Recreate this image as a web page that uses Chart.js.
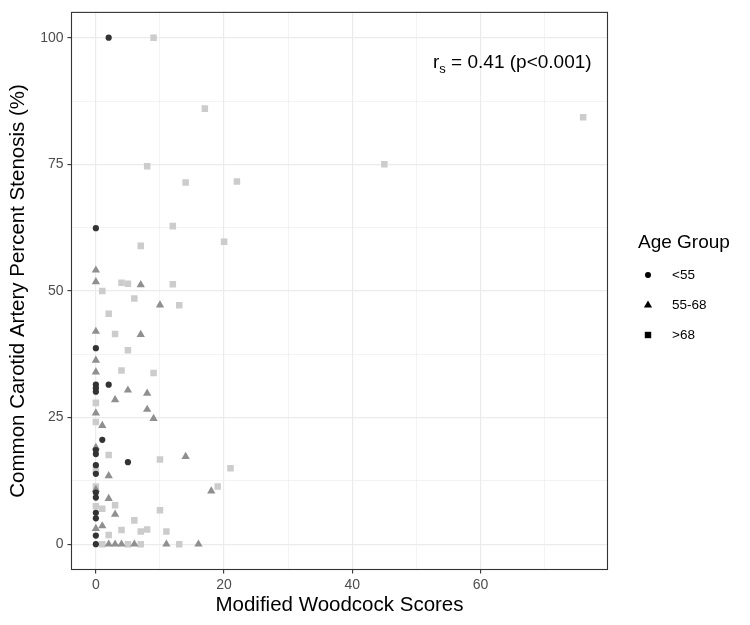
<!DOCTYPE html>
<html>
<head>
<meta charset="utf-8">
<script src="https://cdn.jsdelivr.net/npm/chart.js@4/dist/chart.umd.min.js"></script>
<style>
  html, body { margin: 0; background: #fff; }
  #wrap { width: 750px; height: 625px; position: relative; }
</style>
</head>
<body>
<div id="wrap"><canvas id="chart"></canvas></div>
<script>
// Age groups and their look
const groupNames = ['<55', '55-68', '>68'];
const groupColors = ['#333333', '#8f8f8f', '#cccccc'];

// <55
const youngX = [2, 0, 0, 0, 0, 0, 2, 1, 0, 0, 5, 0, 0, 0, 0, 0, 0, 0, 0];
const youngY = [100, 62.4, 38.7, 31.5, 30.8, 30.1, 31.5, 20.6, 18.6, 17.8, 16.2, 15.6, 13.9, 10.2, 9.2, 6.2, 5.1, 1.7, 0];

// 55-68
const midX = [0, 0, 7, 10, 0, 7, 0, 0, 5, 8, 3, 8, 0, 9, 1, 0, 14, 2, 18, 0, 2, 3, 1, 0, 2, 3, 4, 6, 11, 16];
const midY = [54.1, 51.8, 51.2, 47.2, 42, 41.4, 36.3, 34, 30.4, 29.8, 28.5, 26.6, 25.9, 24.8, 23.4, 19.1, 17.3, 13.5, 10.5, 10.8, 9, 5.9, 3.6, 3.1, 0, 0, 0, 0, 0, 0];

// >68
const oldX = [9, 17, 76, 45, 8, 14, 22, 12, 7, 20, 4, 5, 12, 1, 6, 13, 2, 3, 5, 4, 9, 0, 0, 2, 10, 21, 0, 19, 0, 0, 1, 3, 10, 6, 4, 7, 8, 11, 2, 1, 5, 7, 13];
const oldY = [100, 86, 84.3, 75, 74.6, 71.4, 71.6, 62.8, 58.9, 59.7, 51.6, 51.4, 51.3, 50, 48.5, 47.2, 45.5, 41.5, 38.3, 34.3, 33.8, 27.9, 24.1, 17.6, 16.7, 15, 14.7, 11.4, 11.4, 7.5, 7, 7.7, 6.7, 4.7, 2.8, 2.5, 2.9, 2.5, 1.8, 0, 0, 0, 0];

// axis ticks (majors get labels, the rest are minor grid lines)
const xTicks = [0, 10, 20, 30, 40, 50, 60, 70];
const xLabelled = [0, 20, 40, 60];
const yTicks = [0, 12.5, 25, 37.5, 50, 62.5, 75, 87.5, 100];
const yLabelled = [0, 25, 50, 75, 100];

const FONT = 'Liberation Sans, Arial, sans-serif';

function toPoints(xs, ys) {
    return xs.map((x, i) => ({ x: x, y: ys[i] }));
}

// draws the frame, the r_s note and the legend
const extras = {
    id: 'extras',
    afterDraw(chart) {
        const ctx = chart.ctx;
        const a = chart.chartArea;
        ctx.save();

        // panel border
        ctx.strokeStyle = '#333333';
        ctx.lineWidth = 1.1;
        ctx.strokeRect(a.left, a.top, a.right - a.left, a.bottom - a.top);

        // r_s annotation
        ctx.fillStyle = '#000';
        ctx.textBaseline = 'alphabetic';
        ctx.textAlign = 'left';
        let x = 433;
        ctx.font = '19px ' + FONT;
        ctx.fillText('r', x, 68);
        x += ctx.measureText('r').width;
        ctx.font = '13px ' + FONT;
        ctx.fillText('s', x, 73);
        x += ctx.measureText('s').width;
        ctx.font = '19px ' + FONT;
        ctx.fillText(' = 0.41 (p<0.001)', x, 68);

        // legend
        ctx.font = '19px ' + FONT;
        ctx.textBaseline = 'middle';
        ctx.fillText('Age Group', 638, 243);
        const rows = [275, 305, 335];
        ctx.font = '13.5px ' + FONT;
        groupNames.forEach((name, i) => {
            const cy = rows[i];
            const cx = 648;
            ctx.fillStyle = '#000';
            ctx.beginPath();
            if (i === 0) {
                ctx.arc(cx, cy, 3, 0, Math.PI * 2);
            } else if (i === 1) {
                ctx.moveTo(cx, cy - 4.6);
                ctx.lineTo(cx + 4.1, cy + 2.5);
                ctx.lineTo(cx - 4.1, cy + 2.5);
                ctx.closePath();
            } else {
                ctx.rect(cx - 3.2, cy - 3.2, 6.4, 6.4);
            }
            ctx.fill();
            ctx.fillText(name, 672, cy);
        });
        ctx.restore();
    }
};

const gridColor = '#ebebeb';

new Chart(document.getElementById('chart'), {
    type: 'scatter',
    data: {
        datasets: [
            {
                label: groupNames[0],
                data: toPoints(youngX, youngY),
                pointStyle: 'circle',
                pointRadius: 3.1,
                backgroundColor: groupColors[0],
                borderWidth: 0
            },
            {
                label: groupNames[1],
                data: toPoints(midX, midY),
                pointStyle: 'triangle',
                pointRadius: 4.8,
                backgroundColor: groupColors[1],
                borderWidth: 0
            },
            {
                label: groupNames[2],
                data: toPoints(oldX, oldY),
                pointStyle: 'rect',
                pointRadius: 4.6,
                backgroundColor: groupColors[2],
                borderWidth: 0
            }
        ]
    },
    options: {
        responsive: true,
        maintainAspectRatio: false,
        animation: false,
        events: [],
        layout: { padding: { left: 0, right: 142.5, top: 9, bottom: 0 } },
        plugins: {
            legend: { display: false },
            tooltip: { enabled: false }
        },
        scales: {
            x: {
                type: 'linear',
                min: -3.8,
                max: 79.8,
                afterBuildTicks(scale) {
                    scale.ticks = xTicks.map(v => ({ value: v }));
                },
                afterFit(scale) { scale.height = 55.5; },
                border: { display: false },
                grid: {
                    color: gridColor,
                    lineWidth: c => xLabelled.includes(c.tick.value) ? 1.2 : 0.6,
                    tickColor: c => xLabelled.includes(c.tick.value) ? '#333333' : 'rgba(0,0,0,0)',
                    tickWidth: 1.1,
                    tickLength: 4
                },
                ticks: {
                    autoSkip: false,
                    maxRotation: 0,
                    padding: 3,
                    color: '#4d4d4d',
                    font: { family: FONT, size: 14 },
                    callback: v => xLabelled.includes(v) ? String(v) : ''
                },
                title: {
                    display: true,
                    text: 'Modified Woodcock Scores',
                    color: '#000',
                    font: { family: FONT, size: 20.5 },
                    padding: { top: 0, bottom: 7 }
                }
            },
            y: {
                type: 'linear',
                min: -5,
                max: 105,
                afterBuildTicks(scale) {
                    scale.ticks = yTicks.map(v => ({ value: v }));
                },
                afterFit(scale) { scale.width = 71.5; },
                border: { display: false },
                grid: {
                    color: gridColor,
                    lineWidth: c => yLabelled.includes(c.tick.value) ? 1.2 : 0.6,
                    tickColor: c => yLabelled.includes(c.tick.value) ? '#333333' : 'rgba(0,0,0,0)',
                    tickWidth: 1.1,
                    tickLength: 4
                },
                ticks: {
                    autoSkip: false,
                    padding: 4,
                    color: '#4d4d4d',
                    font: { family: FONT, size: 14 },
                    callback: v => yLabelled.includes(v) ? String(v) : ''
                },
                title: {
                    display: true,
                    text: 'Common Carotid Artery Percent Stenosis (%)',
                    color: '#000',
                    font: { family: FONT, size: 20.5 },
                    padding: { top: 6, bottom: 0 }
                }
            }
        }
    },
    plugins: [extras]
});
</script>
</body>
</html>
